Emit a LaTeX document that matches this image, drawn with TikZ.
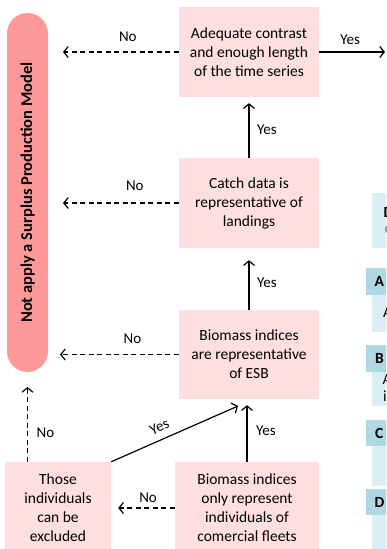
\documentclass[tikz,border=0pt]{standalone}
\usepackage{fontspec}
\setmainfont{Carlito}
\usetikzlibrary{arrows.meta,calc}
\definecolor{stadred}{HTML}{FF9999}
\definecolor{boxpink}{HTML}{FFDFDF}
\definecolor{lblue}{HTML}{DAEEF3}
\definecolor{hblue}{HTML}{ADD8E4}
\begin{document}
\begin{tikzpicture}[x=1pt,y=-1pt,
  txt/.style={font=\fontsize{15.5}{19}\selectfont},
  decbox/.style={fill=boxpink, draw=none, align=center, inner sep=0pt, txt},
  lbl/.style={font=\fontsize{15}{18}\selectfont, inner sep=1pt},
  yesarr/.style={draw=black, line width=1.2pt, -{Straight Barb[length=4.5pt,width=11pt]}},
  noarr/.style={yesarr, dash pattern=on 5pt off 3.5pt},
  hdr/.style={anchor=west, inner sep=0pt, font=\bfseries\fontsize{15.5}{19}\selectfont},
  partial/.style={anchor=west, inner sep=0pt, font=\fontsize{15.5}{19}\selectfont},
]
\useasboundingbox (0,0) rectangle (386,549);
\clip (0,0) rectangle (386,549);

% decision boxes
\node[decbox, minimum width=140pt, minimum height=90pt] (b1) at (249,52) {Adequate contrast\\and enough length\\of the time series};
\node[decbox, minimum width=140pt, minimum height=90pt] (b2) at (249,203) {Catch data is\\representative of\\landings};
\node[decbox, minimum width=140pt, minimum height=89pt] (b3) at (249,354.5) {Biomass indices\\are representative\\of ESB};
\node[decbox, minimum width=144pt, minimum height=92pt] (b4) at (247,508) {Biomass indices\\only represent\\individuals of\\comercial fleets};
\node[decbox, minimum width=106pt, minimum height=92pt] (b5) at (58,508) {Those\\individuals\\can be\\excluded};

% terminal
\node[fill=stadred, rounded corners=20.5pt, minimum width=359pt, minimum height=41pt, rotate=90, inner sep=0pt,
      font=\bfseries\fontsize{16.5}{19}\selectfont] (stad) at (27.5,192.5) {Not apply a Surplus Production Model};

% free ends
\coordinate (t1) at (63,52);
\coordinate (t2) at (385,52);
\coordinate (t3) at (63,203);
\coordinate (t4) at (60,354.5);
\coordinate (t5) at (27.5,387);
\coordinate (t6) at (238,406);

% connectors
\draw[noarr] (b1.west) -- node[lbl, pos=0.44, yshift=15pt] (l1) {No} (t1);
\draw[yesarr] (b1.east) -- node[lbl, pos=0.47, yshift=12pt] (l2) {Yes} (t2);
\draw[yesarr, shorten >=6pt] (b2.north) -- node[lbl, pos=0.46, xshift=18pt] (l3) {Yes} (b1.south);
\draw[noarr] (b2.west) -- node[lbl, pos=0.38, yshift=17pt] (l4) {No} (t3);
\draw[yesarr, shorten >=12pt] (b3.north) -- node[lbl, pos=0.44, xshift=18pt] (l5) {Yes} (b2.south);
\draw[noarr] (b3.west) -- node[lbl, pos=0.39, yshift=16pt] (l6) {No} (t4);
\draw[yesarr, shorten >=6pt] (b4.north) -- node[lbl, pos=0.5, xshift=19pt] (l7) {Yes} (b4.north |- b3.south);
\draw[noarr, shorten >=7pt] (b4.west) -- node[lbl, pos=0.42, yshift=10pt] (l8) {No} (b5.east);
\draw[noarr] (stad.center |- b5.north) -- node[lbl, pos=0.39, xshift=18pt] (l9) {No} (t5);
\draw[yesarr] (b5.north east) -- node[lbl, sloped, above=6pt, pos=0.42] (l10) {Yes} (t6);

% partially visible legend boxes at the right edge
\fill[lblue] (372,193) rectangle (400,248);
\node[partial, font=\bfseries\fontsize{15.5}{19}\selectfont] (p0) at (383.5,212) {D};
\node[partial, text=gray] (p0b) at (384.5,230) {e};

\fill[hblue] (366,268) rectangle (400,295);
\node[hdr] (ha) at (374.5,281.5) {A};
\fill[lblue] (372,295) rectangle (400,332);
\node[partial] (pa) at (383,313) {A};

\fill[hblue] (366,345) rectangle (400,372);
\node[hdr] (hb) at (375,358.5) {B};
\fill[lblue] (372,372) rectangle (400,406);
\node[partial] (pb1) at (382.5,380) {A};
\node[partial] (pb2) at (383,396) {i};

\fill[hblue] (366,420) rectangle (400,446);
\node[hdr] (hc) at (375,433) {C};
\fill[lblue] (372,446) rectangle (400,486);

\fill[hblue] (366,489) rectangle (400,515);
\node[hdr] (hd) at (374.5,502) {D};
\fill[lblue] (372,515) rectangle (400,560);
\end{tikzpicture}
\end{document}
